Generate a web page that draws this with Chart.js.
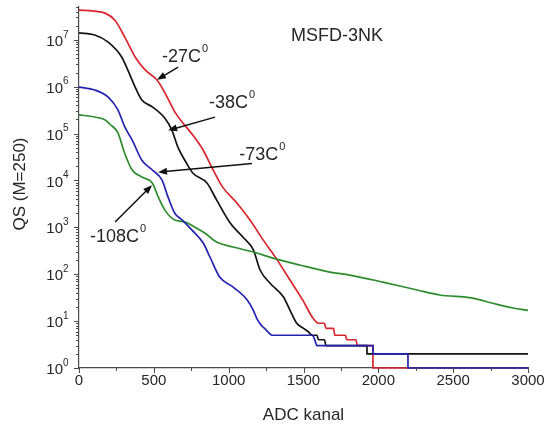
<!DOCTYPE html>
<html>
<head>
<meta charset="utf-8">
<script src="https://cdn.jsdelivr.net/npm/chart.js@4.4.1/dist/chart.umd.min.js"></script>
<style>
  html, body { margin: 0; padding: 0; background: #fff; }
  #wrap { width: 546px; height: 427px; position: relative; }
</style>
</head>
<body>
<div id="wrap"><canvas id="chart"></canvas></div>
<script>
// axis ticks
const xTicks = [0, 500, 1000, 1500, 2000, 2500, 3000]
const xMinorTicks = [250, 750, 1250, 1750, 2250, 2750]
const yPowers = [0, 1, 2, 3, 4, 5, 6, 7]

// series (x = ADC channel, y = counts)
const redX = [0, 100, 175, 240, 305, 375, 440, 520, 575, 640, 700, 760, 830, 895, 960, 1055, 1145, 1230, 1325, 1410, 1495, 1560, 1600, 1640, 1650, 1700, 1710, 1780, 1790, 1850, 1860, 1964, 1964, 3000]
const redY = [4.3e7, 4.1e7, 3.7e7, 2.6e7, 1.15e7, 4.3e6, 2.3e6, 1.4e6, 7.3e5, 2.9e5, 1.6e5, 9.3e4, 4.4e4, 1.7e4, 7.2e3, 3.3e3, 1.4e3, 540, 200, 75, 28, 12, 9, 9, 7, 7, 5, 5, 4, 4, 3, 3, 1, 1]

const blackX = [0, 105, 195, 285, 325, 375, 420, 490, 575, 620, 660, 710, 760, 855, 920, 1010, 1095, 1165, 1210, 1275, 1365, 1410, 1455, 1500, 1530, 1560, 1590, 1600, 1640, 1650, 1924, 1924, 3000]
const blackY = [1.4e7, 1.26e7, 8.9e6, 4.3e6, 2.3e6, 9.8e5, 5.2e5, 3.7e5, 2.1e5, 1.2e5, 5.2e4, 2.6e4, 1.44e4, 8.8e3, 3.8e3, 1.24e3, 620, 330, 123, 65, 33, 17, 9, 7, 6, 5, 5, 4, 4, 3, 3, 2, 2]

const blueX = [0, 105, 195, 260, 305, 355, 420, 490, 555, 595, 640, 690, 755, 830, 875, 940, 1030, 1125, 1165, 1190, 1220, 1240, 1260, 1290, 1560, 1575, 1590, 1964, 1964, 2198, 2198, 3000]
const blueY = [9.8e5, 8.5e5, 6.0e5, 3.2e5, 1.4e5, 7.3e4, 2.7e4, 1.67e4, 1.02e4, 4.4e3, 2.0e3, 1.43e3, 875, 463, 233, 87, 53, 28, 17, 11, 8, 7, 6, 5, 5, 4, 3, 3, 2, 2, 1, 1]

const greenX = [0, 105, 175, 205, 260, 305, 355, 420, 490, 530, 575, 640, 710, 775, 840, 920, 1030, 1165, 1295, 1475, 1675, 1810, 2030, 2260, 2410, 2630, 2765, 2900, 3000]
const greenY = [2.5e5, 2.25e5, 1.95e5, 1.6e5, 1.03e5, 3.8e4, 1.67e4, 1.18e4, 8.8e3, 4.4e3, 2.3e3, 1.43e3, 1.3e3, 1.0e3, 755, 486, 380, 297, 221, 157, 111, 96, 68, 46, 36, 31, 24, 19, 17]

// temperature labels with arrows, placed in data space
const notes = [
  { text: '-27C', sup: '0', tx: 705, ty: 4.3e6, fromX: 662, fromY: 2.6e6, toX: 521, toY: 1.4e6 },
  { text: '-38C', sup: '0', tx: 1020, ty: 4.5e5, fromX: 909, fromY: 2.24e5, toX: 595, toY: 1.17e5 },
  { text: '-73C', sup: '0', tx: 1222, ty: 3.5e4, fromX: 1156, fromY: 2.3e4, toX: 528, toY: 1.5e4 },
  { text: '-108C', sup: '0', tx: 258, ty: 620, fromX: 241, fromY: 1.3e3, toX: 488, toY: 7.9e3 }
]

const FONT = "'Liberation Sans', Arial, sans-serif"
const TEXT = '#262626'
const AXIS = '#4a4a4a'

const toPoints = (xs, ys) => xs.map((x, i) => ({ x: x, y: ys[i] }))

const line = (pts, color) => ({
  data: pts,
  borderColor: color,
  borderWidth: 1.7,
  pointRadius: 0,
  cubicInterpolationMode: 'monotone',
  fill: false,
  clip: 4
})

function arrow(ctx, x1, y1, x2, y2) {
  const a = Math.atan2(y2 - y1, x2 - x1)
  const len = 9, half = 3.5
  ctx.beginPath()
  ctx.moveTo(x1, y1)
  ctx.lineTo(x2 - Math.cos(a) * len * 0.8, y2 - Math.sin(a) * len * 0.8)
  ctx.stroke()
  ctx.beginPath()
  ctx.moveTo(x2, y2)
  ctx.lineTo(x2 - Math.cos(a) * len - Math.sin(a) * half, y2 - Math.sin(a) * len + Math.cos(a) * half)
  ctx.lineTo(x2 - Math.cos(a) * len + Math.sin(a) * half, y2 - Math.sin(a) * len - Math.cos(a) * half)
  ctx.closePath()
  ctx.fill()
}

const decorations = {
  id: 'decorations',
  afterDraw(chart) {
    const { ctx, chartArea, scales: { x, y } } = chart
    const bottom = chartArea.bottom, left = chartArea.left
    ctx.save()
    ctx.strokeStyle = AXIS
    ctx.lineWidth = 1

    // x ticks and labels
    ctx.beginPath()
    xTicks.forEach(v => { const px = Math.round(x.getPixelForValue(v)) + 0.5; ctx.moveTo(px, bottom); ctx.lineTo(px, bottom + 5) })
    xMinorTicks.forEach(v => { const px = Math.round(x.getPixelForValue(v)) + 0.5; ctx.moveTo(px, bottom); ctx.lineTo(px, bottom + 3) })
    ctx.stroke()
    ctx.fillStyle = TEXT
    ctx.font = '15px ' + FONT
    ctx.textAlign = 'center'
    ctx.textBaseline = 'top'
    xTicks.forEach(v => ctx.fillText(String(v), x.getPixelForValue(v), bottom + 5))

    // y ticks (decades + minor) and labels
    ctx.beginPath()
    yPowers.forEach(p => {
      for (let m = 1; m <= 9; m++) {
        const v = m * Math.pow(10, p)
        if (v > y.max) break
        const py = Math.round(y.getPixelForValue(v)) + 0.5
        ctx.moveTo(left, py)
        ctx.lineTo(left - (m === 1 ? 5 : 3), py)
      }
    })
    ctx.stroke()
    ctx.textBaseline = 'middle'
    yPowers.forEach(p => {
      const py = y.getPixelForValue(Math.pow(10, p))
      ctx.font = '15px ' + FONT
      ctx.textAlign = 'right'
      ctx.fillText('10', left - 16, py + 2)
      ctx.font = '10px ' + FONT
      ctx.textAlign = 'left'
      ctx.fillText(String(p), left - 16, py - 5)
    })

    // axis titles
    ctx.font = '17px ' + FONT
    ctx.textAlign = 'center'
    ctx.fillText('ADC kanal', (chartArea.left + chartArea.right) / 2, 415)
    ctx.save()
    ctx.translate(20, 184)
    ctx.rotate(-Math.PI / 2)
    ctx.fillText('QS (M=250)', 0, 0)
    ctx.restore()

    // chart title
    ctx.font = '18px ' + FONT
    ctx.fillText('MSFD-3NK', x.getPixelForValue(1724), y.getPixelForValue(1.2e7))

    // temperature notes
    ctx.strokeStyle = '#111'
    ctx.fillStyle = '#111'
    ctx.lineWidth = 1.5
    notes.forEach(n => {
      arrow(ctx, x.getPixelForValue(n.fromX), y.getPixelForValue(n.fromY),
        x.getPixelForValue(n.toX), y.getPixelForValue(n.toY))
      ctx.fillStyle = TEXT
      ctx.font = '18px ' + FONT
      const w1 = ctx.measureText(n.text).width
      ctx.font = '11px ' + FONT
      const w2 = ctx.measureText(n.sup).width
      const cx = x.getPixelForValue(n.tx), cy = y.getPixelForValue(n.ty)
      const start = cx - (w1 + w2) / 2
      ctx.textAlign = 'left'
      ctx.font = '18px ' + FONT
      ctx.fillText(n.text, start, cy)
      ctx.font = '11px ' + FONT
      ctx.fillText(n.sup, start + w1 + 1, cy - 8)
      ctx.fillStyle = '#111'
    })
    ctx.restore()
  }
}

new Chart(document.getElementById('chart'), {
  type: 'line',
  data: {
    datasets: [
      line(toPoints(blueX, blueY), '#2323b0'),
      line(toPoints(greenX, greenY), '#2e8b2e'),
      line(toPoints(blackX, blackY), '#141414'),
      line(toPoints(redX, redY), '#d8262c')
    ]
  },
  options: {
    responsive: true,
    maintainAspectRatio: false,
    animation: false,
    layout: { padding: { top: 7, right: 18, bottom: 0, left: 0 } },
    plugins: {
      legend: { display: false },
      tooltip: { enabled: false }
    },
    scales: {
      x: {
        type: 'linear',
        min: 0,
        max: 3000,
        grid: { display: false },
        border: { display: true, color: AXIS, width: 1.2 },
        ticks: { display: false },
        afterFit: (s) => { s.height = 59 }
      },
      y: {
        type: 'logarithmic',
        min: 1,
        max: 5e7,
        grid: { display: false },
        border: { display: true, color: AXIS, width: 1.2 },
        ticks: { display: false },
        afterFit: (s) => { s.width = 79 }
      }
    }
  },
  plugins: [decorations]
})
</script>
</body>
</html>
